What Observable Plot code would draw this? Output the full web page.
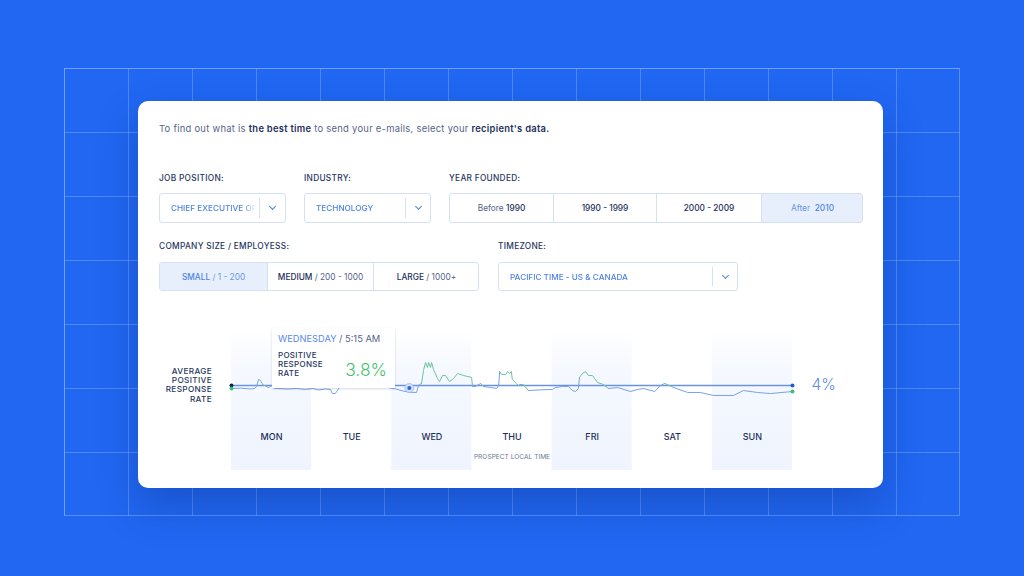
<!DOCTYPE html>
<html><head><meta charset="utf-8">
<script src="https://cdn.jsdelivr.net/npm/d3@7"></script>
<script src="https://cdn.jsdelivr.net/npm/@observablehq/plot@0.6"></script>
<style>
html,body{margin:0;padding:0;width:1024px;height:576px;overflow:hidden;background:#2167f2;font-family:Inter,"Noto Sans",sans-serif;color:#1d2f5c}
#grid{position:absolute;left:64px;top:68px;width:896px;height:448px;box-sizing:border-box;border:1px solid rgba(150,190,255,.45);
background-image:linear-gradient(to right,rgba(150,190,255,.38) 1px,transparent 1px),linear-gradient(to bottom,rgba(150,190,255,.38) 1px,transparent 1px);background-size:64px 64px;background-position:-1px -1px}
#card{position:absolute;left:138px;top:101px;width:745px;height:387px;background:#fff;border-radius:10px;box-shadow:0 18px 40px rgba(10,40,120,.32)}
.t{position:absolute;white-space:nowrap}
.lab{font-size:8.3px;font-weight:500;letter-spacing:.3px;color:#26375f}
.box{position:absolute;box-sizing:border-box;border:1px solid #d5e0f5;border-radius:3px;background:#fff}
.seg{position:absolute;top:0;bottom:0;display:flex;align-items:center;justify-content:center;font-size:8.3px;color:#55648a;border-left:1px solid #d5e0f5;box-sizing:border-box;white-space:nowrap}
.seg b{font-weight:500;color:#1d2f5c}
.seg.on{background:#e7effc;color:#6a97e6}
.seg.on b{color:#4f83e3}
.val{position:absolute;font-size:8.2px;font-weight:500;color:#4f83e3;white-space:nowrap;overflow:hidden}
.div{position:absolute;width:1px;background:#d5e0f5}
.chev{position:absolute;width:4px;height:4px;border-right:1px solid #4f83e3;border-bottom:1px solid #4f83e3;transform:rotate(45deg)}
#plot{position:absolute;left:138px;top:330px}
#plot svg{overflow:visible;display:block;background:transparent}
#tip{position:absolute;left:272px;top:328px;width:123px;height:60px;background:#fff;box-shadow:0 1px 2px rgba(60,80,120,.22)}
#axis{position:absolute;left:150px;top:367px;width:62px;text-align:right;font-size:8.2px;font-weight:500;line-height:9.2px;letter-spacing:.35px;color:#26375f}
</style></head><body>
<div id="grid"></div><div id="card"></div><div id="ui"></div><div id="plot"></div>
<div id="tip">
 <div class="t" style="left:6px;top:5px;font-size:9.3px;color:#55648a"><span style="color:#5b8be6">WEDNESDAY</span> / 5:15 AM</div>
 <div class="t" style="left:6px;top:23px;font-size:8px;font-weight:500;line-height:9.2px;letter-spacing:.3px;color:#26375f">POSITIVE<br>RESPONSE<br>RATE</div>
 <div class="t" style="right:8px;top:31px;font-size:17.5px;font-weight:300;color:#45c46e">3.8%</div>
</div>
<div id="axis">AVERAGE<br>POSITIVE<br>RESPONSE<br>RATE</div>
<script>
const dayNames = ["MON","TUE","WED","THU","FRI","SAT","SUN"];
const hours = [0,2.7,5.7,6.9,7.5,8.1,8.7,9.3,10.5,11.1,12,12.6,13.5,17.1,19.5,22.2,24.3,26.1,28.1,29.6,30.2,31.1,31.7,32.3,34.1,38.6,43.1,47,48.2,49.1,51.5,53.3,55.4,56,56.9,57.5,58.1,58.7,59,59.6,59.9,60.5,61.7,62.3,63.2,64.1,65.3,66.5,67.7,69.5,71.9,72.2,73.1,74.6,75.5,77.6,79.4,80,80.3,80.9,82.1,82.7,83.3,83.8,84.1,85.3,85.9,86.5,87.4,88.9,92.5,96.1,97,99.1,100.9,102.1,103,103.9,104.2,105.1,106,106.9,108.1,109.6,111.4,112.9,115.6,119.5,121.6,123.4,126.7,128.5,129.7,132.4,136.6,140.4,144.3,150.3,153.3,157.5,161.4,168];
const rates = [3.75,3.78,3.71,3.75,3.92,4.5,4.42,4.08,3.92,3.83,4,3.79,3.75,3.71,3.75,3.67,3.75,3.63,3.71,3.67,3.33,3.33,3.58,3.83,4.17,4.25,4.08,3.83,3.75,3.72,3.53,3.44,3.42,4,4.17,5.25,5.92,5.5,5.92,5.5,5.92,5.33,4.58,4.33,4.83,4.83,4.33,4.58,5,4.83,4.67,3.92,3.92,4.17,3.92,3.83,3.75,4,5.17,4.92,4.92,5.17,5,5.17,4.5,4.17,4,4.08,4.08,3.58,3.64,3.67,3.83,3.92,3.92,3.58,3.5,3.75,4.67,5,5.17,4.83,4.83,4.25,4.08,3.75,3.83,3.5,3.67,3.75,3.5,4,4.17,3.83,3.42,3.42,3.17,3.17,3.58,3.42,3.33,3.5];
const average = 4;
const selectedHour = 53.25, selectedRate = 3.8;

const series = hours.map((h,i)=>({h,r:rates[i]}));
const days = dayNames.map((name,i)=>({name,start:i*24,end:(i+1)*24,mid:i*24+12,shade:i%2===0}));
const ends = [hours[0],hours[hours.length-1]];

const gradient = () => {
  const s = d3.create("svg:defs");
  const g = s.append("linearGradient").attr("id","band").attr("x1",0).attr("x2",0).attr("y1",0).attr("y2",1);
  g.append("stop").attr("offset","0").attr("stop-color","#eef4fe").attr("stop-opacity",0);
  g.append("stop").attr("offset","0.25").attr("stop-color","#eef4fe").attr("stop-opacity",.55);
  g.append("stop").attr("offset","1").attr("stop-color","#eff4fe").attr("stop-opacity",1);
  return s.node();
};

const chart = Plot.plot({
  width:745,height:140,marginLeft:93,marginRight:91,marginTop:0,marginBottom:0,
  style:{background:"transparent",overflow:"visible"},
  x:{domain:[0,168],axis:null},
  y:{domain:[-3.083,8.583],axis:null},
  color:{domain:["above","below"],range:["#6cc49c","#79a0e8"]},
  marks:[
    gradient,
    Plot.rectX(days.filter(d=>d.shade),{x1:"start",x2:"end",fill:"url(#band)"}),
    Plot.ruleY([average],{x1:ends[0],x2:ends[1],stroke:"#6a93e6",strokeWidth:1.3}),
    Plot.line(series,{x:"h",y:"r",z:null,stroke:d=>d.r>average?"above":"below",strokeWidth:1,curve:"linear"}),
    Plot.dot([{h:selectedHour,r:selectedRate}],{x:"h",y:"r",r:4.5,fill:"#cfdefa",stroke:"#8fb0ee",strokeWidth:.6}),
    Plot.dot([{h:selectedHour,r:selectedRate}],{x:"h",y:"r",r:2,fill:"#2f66d8"}),
    Plot.dot([ends[0]],{x:d=>d,y:()=>average,r:2,fill:"#10204a"}),
    Plot.dot([ends[0]],{x:d=>d,y:()=>rates[0],r:2,fill:"#35c46a"}),
    Plot.dot([ends[1]],{x:d=>d,y:()=>average,r:2,fill:"#2459c9"}),
    Plot.dot([ends[1]],{x:d=>d,y:()=>rates[rates.length-1],r:2,fill:"#35c46a"}),
    Plot.text([average],{x:()=>168,y:d=>d,text:d=>d+"%",dx:19,textAnchor:"start",fontSize:15.5,fontWeight:300,fill:"#5b8be6",fontFamily:"Inter"}),
    Plot.text(days,{x:"mid",frameAnchor:"bottom",dy:-31,text:"name",fontSize:9,fontWeight:500,fill:"#1d2f5c",letterSpacing:.5,fontFamily:"Inter"}),
    Plot.text(["PROSPECT LOCAL TIME"],{x:()=>84,frameAnchor:"bottom",dy:-12,text:d=>d,fontSize:6.6,fill:"#6d7a98",letterSpacing:.3,fontFamily:"Inter"})
  ]
});
document.getElementById("plot").append(chart);

const ui = document.getElementById("ui");
const add = (html) => ui.insertAdjacentHTML("beforeend",html);
add(`<div class="t" style="left:159px;top:123px;font-size:9.4px;letter-spacing:.28px;color:#55648a">To find out what is <b style="font-weight:600;color:#1d2f5c">the best time</b> to send your e-mails, select your <b style="font-weight:600;color:#1d2f5c">recipient's data.</b></div>`);
[["JOB POSITION:",159,173],["INDUSTRY:",304,173],["YEAR FOUNDED:",449,173],["COMPANY SIZE / EMPLOYESS:",159,241],["TIMEZONE:",498,241]]
 .forEach(([s,l,t])=>add(`<div class="t lab" style="left:${l}px;top:${t}px">${s}</div>`));
function select(text,l,t,w,h,tx,dv){
  add(`<div class="box" style="left:${l}px;top:${t}px;width:${w}px;height:${h}px"></div>
  <div class="val" style="left:${tx}px;top:${t+10}px;width:${dv-tx-3}px;-webkit-mask-image:linear-gradient(to right,#000 85%,transparent)">${text}</div>
  <div class="div" style="left:${dv}px;top:${t+5}px;height:${h-10}px"></div>
  <div class="chev" style="left:${dv+11}px;top:${t+h/2-4}px"></div>`);
}
select("CHIEF EXECUTIVE OF:",159,193,127,30,171,259);
select("TECHNOLOGY",304,193,127,30,316,405);
select("PACIFIC TIME - US &amp; CANADA",498,262,240,29,510,712);
function segs(l,t,w,h,items){
  let inner=""; items.forEach(([html,a,b,on],i)=>{inner+=`<div class="seg${on?' on':''}" style="left:${a-l}px;width:${b-a}px;${i?'':'border-left:0;'}">${html}</div>`});
  add(`<div class="box" style="left:${l}px;top:${t}px;width:${w}px;height:${h}px;overflow:hidden">${inner}</div>`);
}
segs(449,193,414,30,[["Before&nbsp;<b>1990</b>",449,552],["<b>1990 - 1999</b>",552,655],["<b>2000 - 2009</b>",655,760],["After&nbsp;&nbsp;<b>2010</b>",760,862,true]]);
segs(159,262,320,29,[["<b>SMALL</b>&nbsp;/ 1 - 200",159,266,true],["<b>MEDIUM</b>&nbsp;/ 200 - 1000",266,372],["<b>LARGE</b>&nbsp;/ 1000+",372,478]]);
</script>
</body></html>
